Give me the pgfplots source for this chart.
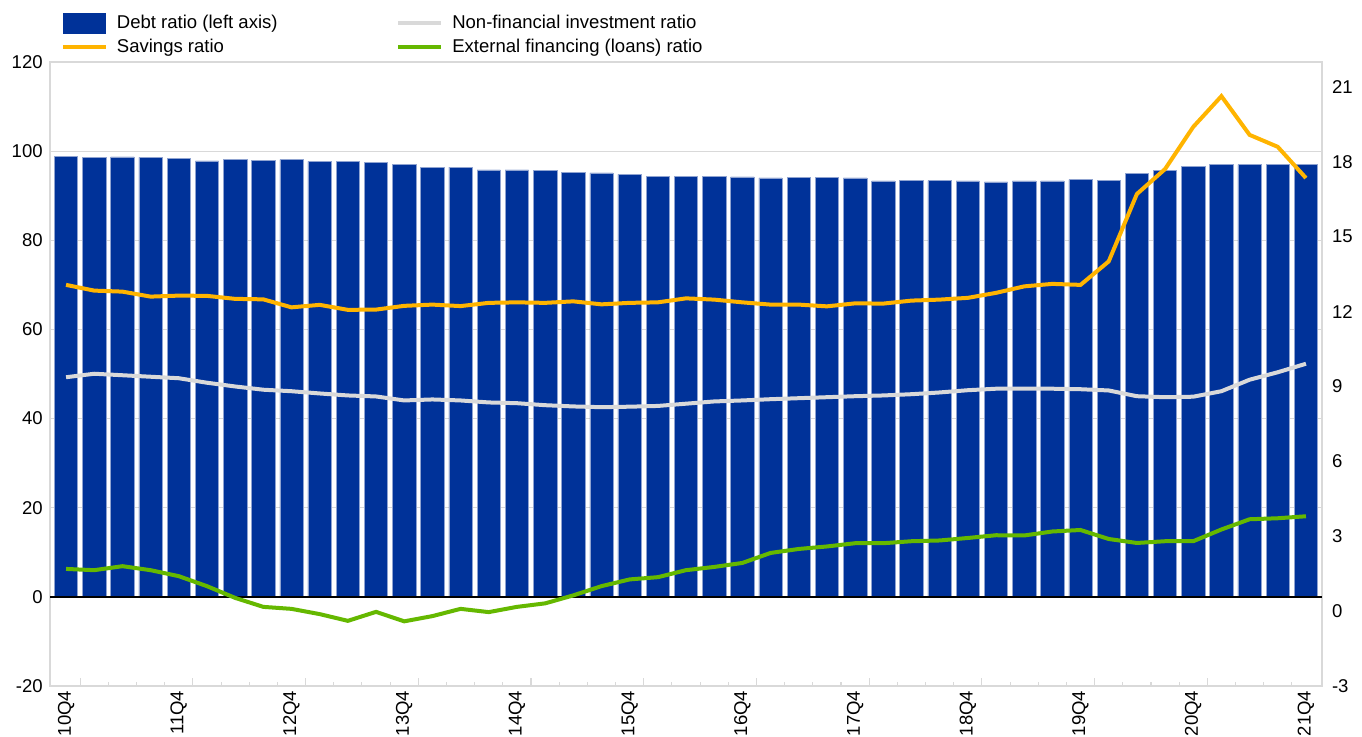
\documentclass[border=0pt]{standalone}
\usepackage{fontspec}
\setmainfont{Liberation Sans}
\usepackage{pgfplots}
\pgfplotsset{compat=1.18}
\usepackage{pgfplotstable}
\definecolor{ecbblue}{HTML}{003299}
\definecolor{ecborange}{HTML}{FFB400}
\definecolor{ecbgrey}{HTML}{D9D9D9}
\definecolor{ecbgreen}{HTML}{65B800}
\definecolor{gridgrey}{HTML}{D9D9D9}
\definecolor{baredge}{HTML}{8FA3D1}

\pgfplotstableread{
x debt sav inv ext
0 98.9 13.07 9.37 1.69
1 98.6 12.84 9.51 1.64
2 98.7 12.80 9.45 1.80
3 98.6 12.60 9.39 1.64
4 98.4 12.64 9.33 1.40
5 97.8 12.63 9.15 1.00
6 98.1 12.51 9.00 0.53
7 98.0 12.49 8.87 0.17
8 98.1 12.17 8.81 0.09
9 97.7 12.27 8.72 -0.12
10 97.7 12.07 8.64 -0.39
11 97.4 12.08 8.60 -0.03
12 97.0 12.23 8.44 -0.41
13 96.4 12.28 8.48 -0.20
14 96.4 12.22 8.44 0.09
15 95.8 12.35 8.36 -0.04
16 95.8 12.37 8.33 0.17
17 95.6 12.35 8.25 0.31
18 95.3 12.41 8.20 0.63
19 95.1 12.29 8.17 1.00
20 94.8 12.35 8.19 1.27
21 94.4 12.37 8.22 1.36
22 94.4 12.53 8.31 1.64
23 94.4 12.48 8.40 1.77
24 94.2 12.37 8.44 1.93
25 94.0 12.28 8.49 2.33
26 94.1 12.28 8.53 2.49
27 94.1 12.21 8.57 2.59
28 94.0 12.33 8.61 2.72
29 93.3 12.32 8.64 2.72
30 93.4 12.44 8.69 2.80
31 93.4 12.48 8.76 2.83
32 93.3 12.55 8.85 2.93
33 93.1 12.75 8.91 3.04
34 93.3 13.01 8.91 3.03
35 93.3 13.11 8.91 3.19
36 93.6 13.07 8.89 3.25
37 93.4 14.01 8.84 2.89
38 95.0 16.71 8.61 2.73
39 95.7 17.71 8.57 2.80
40 96.5 19.40 8.59 2.80
41 97.0 20.63 8.81 3.27
42 97.0 19.08 9.27 3.68
43 97.1 18.60 9.57 3.72
44 97.1 17.35 9.91 3.80
}\data

\begin{document}
\begin{tikzpicture}[font=\fontsize{13.9pt}{16.7pt}\selectfont]
\pgfplotsset{
  every axis/.append style={
    width=954pt, height=468pt, scale only axis,
    xmin=-0.57, xmax=44.57,
    /pgf/number format/assume math mode=true,
    ticklabel style={font=\fontsize{13.9pt}{16.7pt}\selectfont},
  }
}
\begin{axis}[
  ymin=-20, ymax=120,
  ytick={-20,0,...,120},
  ytick pos=left,
  ytick style={draw=none},
  yticklabel style={xshift=-2pt},
  ymajorgrids,
  grid style={gridgrey, line width=0.8pt},
  axis line style={gridgrey, line width=0.8pt},
  xtick={0,4,...,44},
  xticklabels={10Q4,11Q4,12Q4,13Q4,14Q4,15Q4,16Q4,17Q4,18Q4,19Q4,20Q4,21Q4},
  xticklabel style={rotate=90, anchor=east},
  xtick pos=bottom,
  major x tick style={draw=none},
  extra x ticks={0.5,4.5,...,40.5},
  extra x tick labels={},
  extra x tick style={major x tick style={gridgrey, line width=0.8pt, draw=gridgrey}, major tick length=6pt, xtick pos=bottom},
  minor xtick={0.5,1.5,...,43.5},
  minor x tick style={gridgrey, line width=0.8pt},
  minor tick length=3pt,
  tick align=inside,
]
\addplot[ybar, bar width=0.83, fill=ecbblue, draw=baredge, line width=0.4pt] table[x=x,y=debt]{\data};
\addplot[black, line width=1.6pt, forget plot] coordinates {(-0.57,0) (44.57,0)};
\coordinate (plotSW) at (rel axis cs:0,0);
\end{axis}
\begin{axis}[
  ymin=-3, ymax=22,
  ytick={-3,0,...,21},
  axis y line*=right,
  axis x line=none,
  axis line style={draw=none},
  ytick style={draw=none},
  yticklabel style={xshift=4pt},
  legend columns=2,
  legend cell align=left,
  legend style={at={(0,1)}, anchor=south west, xshift=5pt, yshift=1.5pt, draw=none, fill=none,
    font=\fontsize{13.9pt}{16.7pt}\selectfont,
    row sep=2pt,
    /tikz/every odd column/.append style={column sep=5pt},
    /tikz/every even column/.append style={column sep=87pt}},
  legend image code/.code={\draw[#1] (0pt,0pt) -- (32pt,0pt);},
]
\addlegendimage{legend image code/.code={\fill[ecbblue] (0pt,-7.5pt) rectangle (31.5pt,7.5pt);}}
\addlegendentry{Debt ratio (left axis)}
\addplot[ecbgrey, line width=3pt] table[x=x,y=inv]{\data};
\addlegendentry{Non-financial investment ratio}
\addplot[ecborange, line width=3pt] table[x=x,y=sav]{\data};
\addlegendentry{Savings ratio}
\addplot[ecbgreen, line width=3pt] table[x=x,y=ext]{\data};
\addlegendentry{External financing (loans) ratio}
\end{axis}
\pgfresetboundingbox
\path[use as bounding box] (plotSW) ++(-37.5pt,-38.25pt) rectangle ++(1021.5pt,552.75pt);
\end{tikzpicture}
\end{document}
